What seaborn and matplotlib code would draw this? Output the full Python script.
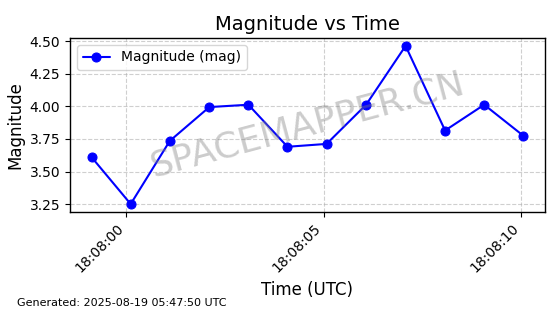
import matplotlib
matplotlib.use("Agg")
import matplotlib.pyplot as plt
import matplotlib.dates as mdates
import seaborn as sns
import pandas as pd

times = ["2025-08-18 18:07:59.12", "2025-08-18 18:08:00.11", "2025-08-18 18:08:01.10",
         "2025-08-18 18:08:02.10", "2025-08-18 18:08:03.09", "2025-08-18 18:08:04.08",
         "2025-08-18 18:08:05.07", "2025-08-18 18:08:06.07", "2025-08-18 18:08:07.07",
         "2025-08-18 18:08:08.07", "2025-08-18 18:08:09.06", "2025-08-18 18:08:10.05"]
magnitude = [3.61, 3.25, 3.735, 3.995, 4.013, 3.69, 3.712, 4.013, 4.465, 3.815, 4.013, 3.775]
tick_times = ["2025-08-18 18:08:00", "2025-08-18 18:08:05", "2025-08-18 18:08:10"]

df = pd.DataFrame({"time": pd.to_datetime(times), "mag": magnitude})

sns.set_style("white")
plt.rcParams['font.family'] = ['DejaVu Sans']
for k in ["text.color", "axes.labelcolor", "xtick.color", "ytick.color"]:
    plt.rcParams[k] = "black"

fig = plt.figure(figsize=(5.6, 3.14), dpi=100)
ax = fig.add_axes([0.125, 0.325, 0.848, 0.554])
sns.lineplot(data=df, x="time", y="mag", marker="o", color="blue", markersize=6.5,
             markeredgecolor="blue", linewidth=1.5, label="Magnitude (mag)", ax=ax)

for s in ax.spines.values():
    s.set_color("black")
    s.set_linewidth(1.0)
ax.tick_params(axis="both", which="major", length=3.5, width=0.8, color="black", labelsize=10, bottom=True, left=True)
ax.set_xticks(pd.to_datetime(tick_times))
ax.xaxis.set_major_formatter(mdates.DateFormatter("%H:%M:%S"))
plt.setp(ax.get_xticklabels(), rotation=45, ha="right")
ax.set_yticks([3.25, 3.5, 3.75, 4.0, 4.25, 4.5])
ax.set_yticklabels(["3.25", "3.50", "3.75", "4.00", "4.25", "4.50"])
ax.grid(True, linestyle="--", color="#b0b0b0", linewidth=0.8, alpha=0.6)
ax.set_title("Magnitude vs Time", fontsize=14)
ax.set_xlabel("Time (UTC)", fontsize=12)
ax.set_ylabel("Magnitude", fontsize=12)
ax.legend(loc="upper left", fontsize=10, frameon=True)

ax.text(0.5, 0.5, "SPACEMAPPER.CN", transform=ax.transAxes, fontsize=26, color="gray",
        alpha=0.4, rotation=15, ha="center", va="center")
fig.text(0.03, 0.025, "Generated: 2025-08-19 05:47:50 UTC", fontsize=8)

fig.savefig("out.png", dpi=100)
